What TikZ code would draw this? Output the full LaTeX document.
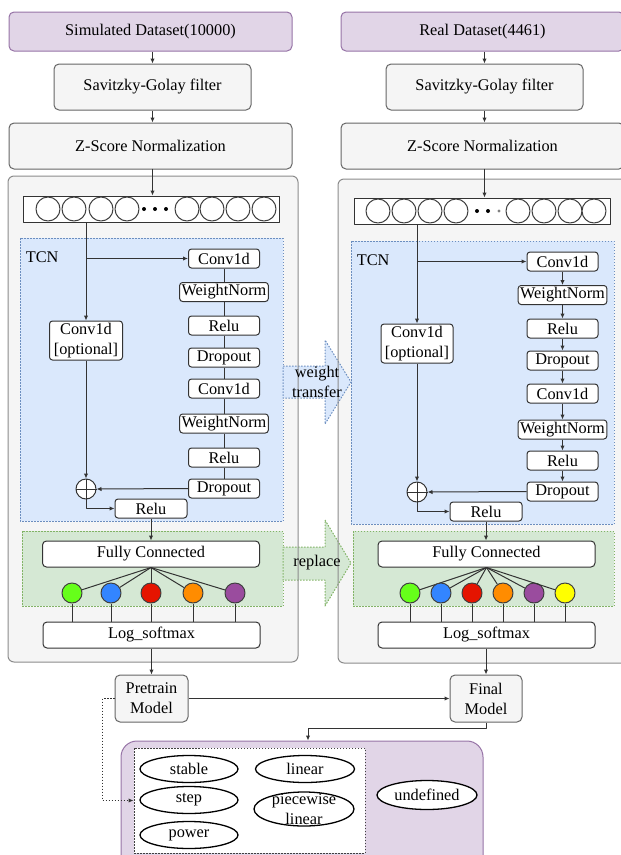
\documentclass[tikz,border=0pt]{standalone}
\usepackage{fontspec}
\setmainfont{Liberation Serif}
\usetikzlibrary{arrows.meta,shapes.geometric}
\definecolor{purplefill}{HTML}{E1D5E7}
\definecolor{purpleline}{HTML}{9673A6}
\definecolor{greyfill}{HTML}{F5F5F5}
\definecolor{greyline}{HTML}{666666}
\definecolor{panelline}{HTML}{8C8C8C}
\definecolor{tcnfill}{HTML}{DAE8FC}
\definecolor{tcnline}{HTML}{6C8EBF}
\definecolor{fcfill}{HTML}{D5E8D4}
\definecolor{fcline}{HTML}{82B366}
\definecolor{clsgreen}{HTML}{66FF1A}
\definecolor{clsblue}{HTML}{3385FF}
\definecolor{clsred}{HTML}{E51400}
\definecolor{clsorange}{HTML}{FF8C00}
\definecolor{clspurple}{HTML}{9A4C9E}
\definecolor{clsyellow}{HTML}{FFFF00}
\tikzset{
  dotline/.style={dash pattern=on 1.5pt off 1.5pt},
  databox/.style={draw=purpleline, fill=purplefill, rounded corners=5pt, minimum width=283pt, minimum height=39pt, inner sep=0pt},
  prepbox/.style={draw=greyline, fill=greyfill, rounded corners=5pt, minimum height=46pt, inner sep=0pt},
  modelbox/.style={draw=greyline, fill=greyfill, rounded corners=5pt, minimum width=73pt, minimum height=47pt, inner sep=0pt, align=center},
  tcnbg/.style={draw=tcnline, fill=tcnfill, dotline},
  fcbg/.style={draw=fcline, fill=fcfill, dotline},
  inrow/.style={draw=black!80, fill=white, minimum width=256pt, minimum height=26pt, inner sep=0pt},
  cell/.style={circle, draw=black!75, fill=white, minimum size=24pt, inner sep=0pt},
  layer/.style={draw=black!80, fill=white, rounded corners=3pt, minimum width=71pt, minimum height=19pt, inner xsep=2pt, inner ysep=0pt, align=center},
  headbox/.style={draw=black!80, fill=white, rounded corners=4pt, minimum width=217pt, minimum height=26pt, inner sep=0pt},
  neuron/.style={circle, draw=black!75, minimum size=20pt, inner sep=0pt},
  sumnode/.style={circle, draw=black!80, fill=white, minimum size=20pt, inner sep=0pt},
  cls/.style={ellipse, draw=black, line width=1.3pt, fill=white, minimum width=98pt, minimum height=27pt, inner sep=0pt, align=center},
  arr/.style={draw=black!80, -{Latex[length=5pt,width=4.5pt]}},
  conn/.style={draw=black!80}
}
\begin{document}
\begin{tikzpicture}[x=1pt, y=-1pt, line width=1pt, line join=round, font=\fontsize{16.3}{20}\selectfont]
\useasboundingbox (0,0) rectangle (621,855);
\clip (0,0) rectangle (621,855);

\fill[greyfill, rounded corners=6pt] (8,176) rectangle (298,662);
\fill[greyfill, rounded corners=6pt] (338,179) rectangle (640,663);
\filldraw[tcnbg] (20,238) rectangle (283,521);
\filldraw[tcnbg] (351,241) rectangle (614,524);
\filldraw[fcbg] (22,531) rectangle (283,606);
\filldraw[fcbg] (353,531) rectangle (614,606);
\filldraw[tcnbg] (283,366) -- (325,366) -- (325,340) -- (351,382) -- (325,424) -- (325,398) -- (283,398) -- cycle;
\filldraw[fcbg] (283,547) -- (325,547) -- (325,520) -- (351,563) -- (325,606) -- (325,580) -- (283,580) -- cycle;
\draw[panelline, rounded corners=6pt] (8,176) rectangle (298,662);
\draw[panelline, rounded corners=6pt] (338,179) rectangle (640,663);
\node[align=center] (wtxt) at (317,382) {weight\\transfer};
\node (rtxt) at (317,563) {replace};

\node[databox] (simdata) at (150.5,31.5) {Simulated Dataset(10000)};
\node[databox] (realdata) at (482.5,31.5) {Real Dataset(4461)};
\node[prepbox, minimum width=197pt] (sgL) at (152.5,87) {Savitzky-Golay filter};
\node[prepbox, minimum width=197pt] (sgR) at (484.5,87) {Savitzky-Golay filter};
\node[prepbox, minimum width=283pt] (zsL) at (150.5,146) {Z-Score Normalization};
\node[prepbox, minimum width=283pt] (zsR) at (482.5,146) {Z-Score Normalization};

\node[inrow] (inL) at (151,209) {};
\node[inrow] (inR) at (482.5,211) {};
\foreach \x [count=\i] in {48,74,101,127,187,212,238,264}
  \node[cell] (cL\i) at (\x,209) {};
\foreach \x [count=\i] in {378,404,430,456,518,544,570,594}
  \node[cell] (cR\i) at (\x,211) {};
\foreach \x in {144,155,166} \fill (\x,209) circle (2);
\fill (477,211) circle (2) (488,211) circle (2);
\fill[gray] (499,211) circle (1.6);

\draw[arr] (sgL.north |- simdata.south) -- (sgL.north);
\draw[arr] (sgR.north |- realdata.south) -- (sgR.north);
\draw[arr] (sgL.south) -- (sgL.south |- zsL.north);
\draw[arr] (sgR.south) -- (sgR.south |- zsR.north);
\draw[arr] (inL.north -| sgL.south) ++(0,-27) -- (inL.north -| sgL.south);
\draw[arr] (inR.north -| sgR.south) ++(0,-29) -- (inR.north -| sgR.south);

\node[anchor=west] (tcnL) at (22,257) {TCN};
\node[anchor=west] (tcnR) at (353,260) {TCN};
\foreach \n/\t/\yl/\yr in {c1/Conv1d/258.5/261.5, w1/WeightNorm/292/295, r1/Relu/325.5/328.5, d1/Dropout/357.5/360.5, c2/Conv1d/388.5/393.5, w2/WeightNorm/423.5/429.5, r2/Relu/457.5/460.5, d2/Dropout/488.5/491.5}
  {\node[layer] (L\n) at (224,\yl) {\t};
   \node[layer] (R\n) at (562.5,\yr) {\t};}
\foreach \a/\b in {c1/w1, w1/r1, r1/d1, d1/c2, c2/w2, w2/r2, r2/d2}
  \draw[arr] (L\a) -- (L\b) (R\a) -- (R\b);

\node[layer, minimum width=73pt, minimum height=39pt] (optL) at (86,340.5) {Conv1d\\{[optional]}};
\node[layer, minimum width=72pt, minimum height=39pt] (optR) at (417,343.5) {Conv1d\\{[optional]}};
\node[sumnode] (sumL) at (86,489) {};
\node[sumnode] (sumR) at (417,492) {};
\draw[conn] (sumL.north) -- (sumL.south) (sumL.west) -- (sumL.east);
\draw[conn] (sumR.north) -- (sumR.south) (sumR.west) -- (sumR.east);
\node[layer, minimum width=72pt] (reluL) at (151,508.5) {Relu};
\node[layer, minimum width=72pt] (reluR) at (486,511.5) {Relu};

\draw[arr] (optL.north |- inL.south) -- (optL.north);
\draw[arr] (optR.north |- inR.south) -- (optR.north);
\draw[arr] (optL.north |- Lc1.west) -- (Lc1.west);
\draw[arr] (optR.north |- Rc1.west) -- (Rc1.west);
\draw[arr] (optL.south) -- (sumL.north);
\draw[arr] (optR.south) -- (sumR.north);
\draw[arr] (Ld2.west) -- (sumL.east);
\draw[arr] (Rd2.west) -- (sumR.east);
\draw[arr] (sumL.south) |- (reluL.west);
\draw[arr] (sumR.south) |- (reluR.west);

\node[headbox] (fcL) at (151,554) {Fully Connected};
\node[headbox] (fcR) at (486.5,554) {Fully Connected};
\node[headbox] (lsL) at (151.5,635) {Log\_softmax};
\node[headbox] (lsR) at (486.5,635) {Log\_softmax};
\draw[arr] (reluL.south) -- (reluL.south |- fcL.north);
\draw[arr] (reluR.south) -- (reluR.south |- fcR.north);
\foreach \x/\c [count=\i] in {72/clsgreen, 111/clsblue, 151/clsred, 193/clsorange, 235/clspurple}
  {\node[neuron, fill=\c] (nL\i) at (\x,593) {};
   \draw[conn] (fcL.south) -- (nL\i);
   \draw[conn] (nL\i.south) -- (nL\i.south |- lsL.north);}
\foreach \x/\c [count=\i] in {410/clsgreen, 441/clsblue, 472/clsred, 503/clsorange, 534/clspurple, 565/clsyellow}
  {\node[neuron, fill=\c] (nR\i) at (\x,593) {};
   \draw[conn] (fcR.south) -- (nR\i);
   \draw[conn] (nR\i.south) -- (nR\i.south |- lsR.north);}

\node[modelbox] (preL) at (151.5,698.5) {Pretrain\\Model};
\node[modelbox, minimum width=72pt] (finalR) at (486,698.5) {Final\\Model};
\draw[arr] (lsL.south) -- (lsL.south |- preL.north);
\draw[arr] (lsR.south -| finalR.north) -- (finalR.north);
\draw[arr] (preL.east) -- (finalR.west);

\node[draw=purpleline, fill=purplefill, rounded corners=16pt, minimum width=362pt, minimum height=140pt] (result) at (302,811) {};
\node[draw=black!75, fill=white, dotline, minimum width=231pt, minimum height=105pt, inner sep=0pt] (classbox) at (249.5,800.5) {};
\coordinate (drop) at (308,728);
\draw[arr] (finalR.south) |- (drop) -- (drop |- result.north);
\draw[arr, dotline] (preL.west) -- ++(-12,0) |- (classbox.west);

\node[cls] (stable) at (189,769) {stable};
\node[cls] (step) at (189,800) {step};
\node[cls] (power) at (189,835) {power};
\node[cls, minimum width=99pt] (linear) at (305,769) {linear};
\node[cls, minimum width=100pt, minimum height=34pt, label={[align=center]center:piecewise\\linear}] (piecewise) at (304,809) {};
\node[cls, minimum width=100pt, minimum height=29pt] (undefined) at (427,795) {undefined};
\end{tikzpicture}
\end{document}
